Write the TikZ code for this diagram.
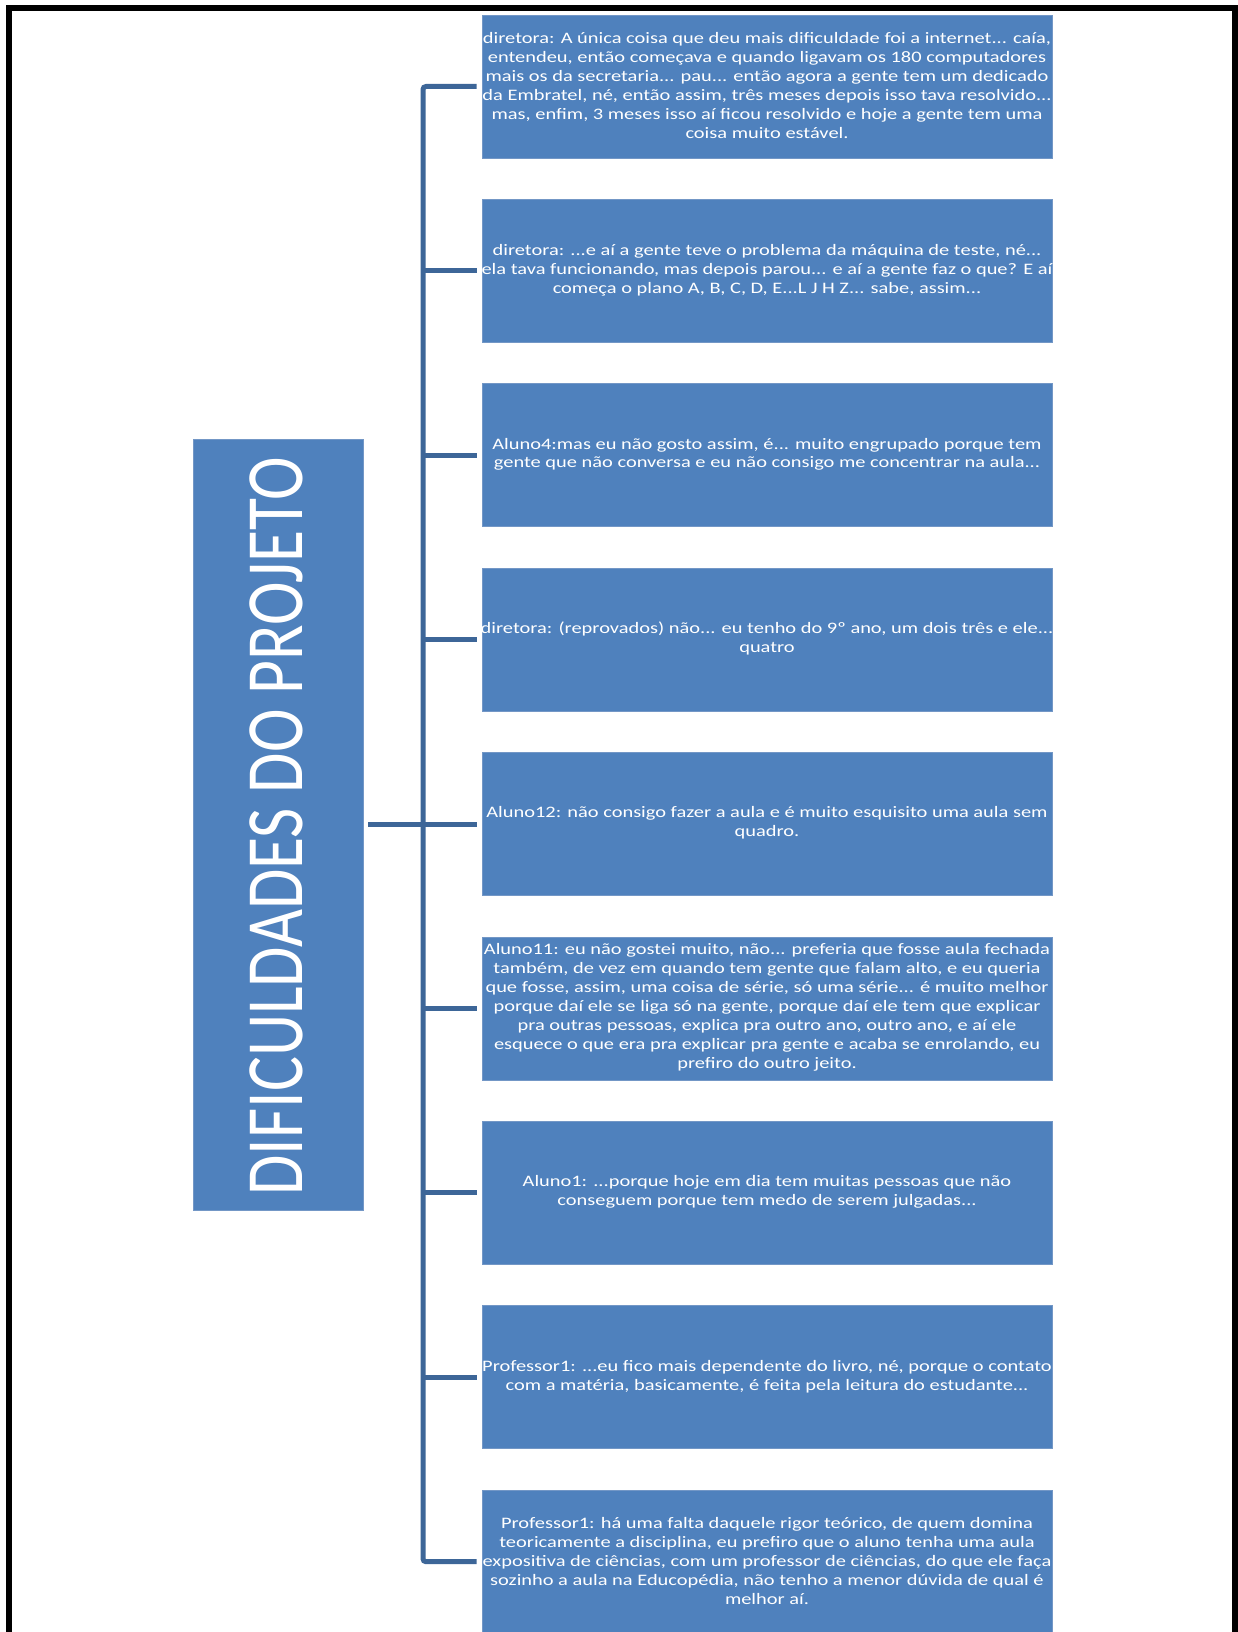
\documentclass[tikz,border=0pt]{standalone}
\usepackage{fontspec}
\setmainfont{Carlito}[FakeStretch=1.276]
\newfontfamily\titlefont{Carlito}
\definecolor{boxblue}{HTML}{4F81BD}
\definecolor{connblue}{HTML}{3D6698}
\definecolor{boxedge}{HTML}{7397C6}
\tikzset{
  quotebox/.style={rectangle, fill=boxblue, draw=boxedge, line width=0.8pt,
    minimum width=570pt, minimum height=143pt, inner sep=0pt},
  quotetext/.style={text=white, align=center, inner sep=0pt,
    font=\fontsize{16}{18.9}\selectfont},
  conn/.style={draw=connblue, line width=5pt},
  frameline/.style={draw=black, line width=6pt}
}
\begin{document}
\begin{tikzpicture}[x=1pt,y=-1pt]
\useasboundingbox (0,0) rectangle (1237,1632);
\fill[white] (0,0) rectangle (1237,1632);
\draw[frameline] (9,1700) -- (9,8) -- (1234.5,8) -- (1234.5,1700);

% title
\node[rectangle, fill=boxblue, draw=boxedge, line width=0.8pt,
  minimum width=170pt, minimum height=771pt, inner sep=0pt] (title) at (278,824.5) {};
\node[rotate=90, text=white, inner sep=0pt] (titletext) at (276,826)
  {\scalebox{1}[1.24]{\titlefont\fontsize{65.6}{70}\selectfont DIFICULDADES DO PROJETO}};

% boxes
\foreach \i in {1,...,9}{
  \node[quotebox] (b\i) at (767,{86.5+184.4*(\i-1)}) {};
}
\coordinate (sp) at (423,0);

\node[quotetext, yshift=1pt] (t1) at (b1) {diretora: A única coisa que deu mais dificuldade foi a internet... caía,\\
entendeu, então começava e quando ligavam os 180 computadores\\
mais os da secretaria... pau... então agora a gente tem um dedicado\\
da Embratel, né, então assim, três meses depois isso tava resolvido...\\
mas, enfim, 3 meses isso aí ficou resolvido e hoje a gente tem uma\\
coisa muito estável.};

\node[quotetext, yshift=1pt] (t2) at (b2) {diretora: ...e aí a  gente teve o problema da máquina de teste, né...\\
ela tava funcionando, mas depois parou... e aí a gente faz o que? E aí\\
começa o plano A, B, C, D, E...L J H  Z... sabe, assim...};

\node[quotetext, yshift=1pt] (t3) at (b3) {Aluno4:mas eu não gosto assim, é... muito engrupado porque tem\\
gente que não conversa e eu não consigo me concentrar na aula...};

\node[quotetext, yshift=1pt] (t4) at (b4) {diretora: (reprovados) não... eu tenho do 9º ano, um dois três e ele...\\
quatro};

\node[quotetext, yshift=1pt] (t5) at (b5) {Aluno12: não consigo fazer a aula e é muito esquisito uma aula sem\\
quadro.};

\node[quotetext, yshift=1pt] (t6) at (b6) {Aluno11: eu não gostei muito, não... preferia que fosse aula fechada\\
também, de vez em quando tem gente que falam alto, e eu queria\\
que fosse, assim, uma coisa de série, só uma série... é muito melhor\\
porque daí ele se liga só na gente, porque daí ele tem que explicar\\
pra outras pessoas, explica pra outro ano, outro ano, e aí ele\\
esquece o que era pra explicar pra gente e acaba se enrolando, eu\\
prefiro do outro jeito.};

\node[quotetext, yshift=1pt] (t7) at (b7) {Aluno1: ...porque hoje em dia tem muitas pessoas que não\\
conseguem porque tem medo de serem julgadas...};

\node[quotetext, yshift=1pt] (t8) at (b8) {Professor1: ...eu fico mais dependente do livro, né, porque o contato\\
com a matéria, basicamente, é feita pela leitura do estudante...};

\node[quotetext, yshift=1pt] (t9) at (b9) {Professor1: há uma falta daquele rigor teórico, de quem domina\\
teoricamente a disciplina, eu prefiro que o aluno tenha uma aula\\
expositiva de ciências, com um professor de ciências, do que ele faça\\
sozinho a aula na Educopédia, não tenho a menor dúvida de qual é\\
melhor aí.};

% connectors
\draw[conn, rounded corners=3pt] ([xshift=-5pt]b1.west) -- (b1.west -| sp)
  -- (b9.west -| sp) -- ([xshift=-5pt]b9.west);
\foreach \i in {2,...,8}{
  \draw[conn] (b\i.west -| sp) -- ([xshift=-5pt]b\i.west);
}
\draw[conn] ([xshift=5pt]title.east) -- (title.east -| sp);
\end{tikzpicture}
\end{document}
